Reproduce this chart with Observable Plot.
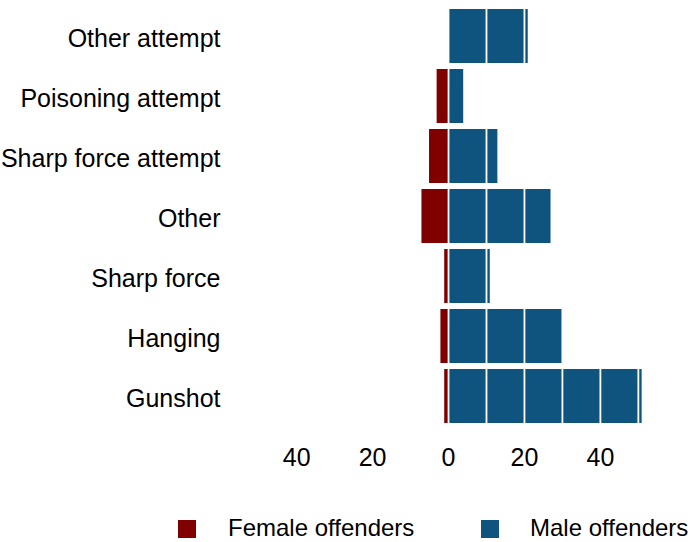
<!DOCTYPE html>
<html>
<head>
<meta charset="utf-8">
<script src="https://cdn.jsdelivr.net/npm/d3@7"></script>
<script src="https://cdn.jsdelivr.net/npm/@observablehq/plot@0.6"></script>
<style>
  body { margin: 0; background: #fff; font-family: "Liberation Sans", Arial, sans-serif; }
  #wrap { position: relative; width: 693px; height: 542px; overflow: hidden; }
  #legend { position: absolute; left: 0; top: 480px; width: 693px; height: 62px; }
  .sw { position: absolute; width: 18px; height: 18px; top: 40px; }
  .lt { position: absolute; top: 36px; font-size: 24px; line-height: 24px; color: #000; white-space: nowrap; }
</style>
</head>
<body>
<div id="wrap">
  <div id="chart"></div>
  <div id="legend"></div>
</div>
<script>
const categories = ["Other attempt", "Poisoning attempt", "Sharp force attempt", "Other", "Sharp force", "Hanging", "Gunshot"];
const femaleValues = [0, 3, 5, 7, 1, 2, 1];
const maleValues = [21, 4, 13, 27, 11, 30, 51];
const seriesNames = ["Female offenders", "Male offenders"];
const seriesColors = ["#800000", "#0f547f"];
const tickValues = [-40, -20, 0, 20, 40];
const gridStep = 10;

const rows = [];
categories.forEach((c, i) => {
  rows.push({category: c, sex: seriesNames[0], value: -femaleValues[i]});
  rows.push({category: c, sex: seriesNames[1], value: maleValues[i]});
});

const xDomain = [-54, 64];
const grid = d3.range(-50, 61, gridStep);

const chart = Plot.plot({
  width: 693,
  height: 480,
  marginLeft: 243,
  marginRight: 2,
  marginTop: 3,
  marginBottom: 51,
  style: {fontFamily: "'Liberation Sans', Arial, sans-serif", fontSize: "25px", color: "#000", background: "#fff"},
  x: {domain: xDomain, label: null},
  y: {domain: categories, padding: 0.1, round: false, label: null},
  color: {domain: seriesNames, range: seriesColors},
  marks: [
    Plot.barX(rows, {y: "category", x1: 0, x2: "value", fill: "sex"}),
    Plot.ruleX(grid, {stroke: "white", strokeWidth: 1.8}),
    Plot.axisX({ticks: tickValues, tickFormat: d => Math.abs(d), tickSize: 0, tickPadding: 19, label: null, fontSize: 25}),
    Plot.axisY({tickSize: 0, tickPadding: 23, label: null, fontSize: 25, dy: 2})
  ]
});
document.getElementById("chart").appendChild(chart);

const legend = document.getElementById("legend");
const swX = [178, 481];
const txX = [228, 530];
seriesNames.forEach((n, i) => {
  const s = document.createElement("div");
  s.className = "sw";
  s.style.left = swX[i] + "px";
  s.style.background = seriesColors[i];
  legend.appendChild(s);
  const t = document.createElement("div");
  t.className = "lt";
  t.style.left = txX[i] + "px";
  t.textContent = n;
  legend.appendChild(t);
});
</script>
</body>
</html>
